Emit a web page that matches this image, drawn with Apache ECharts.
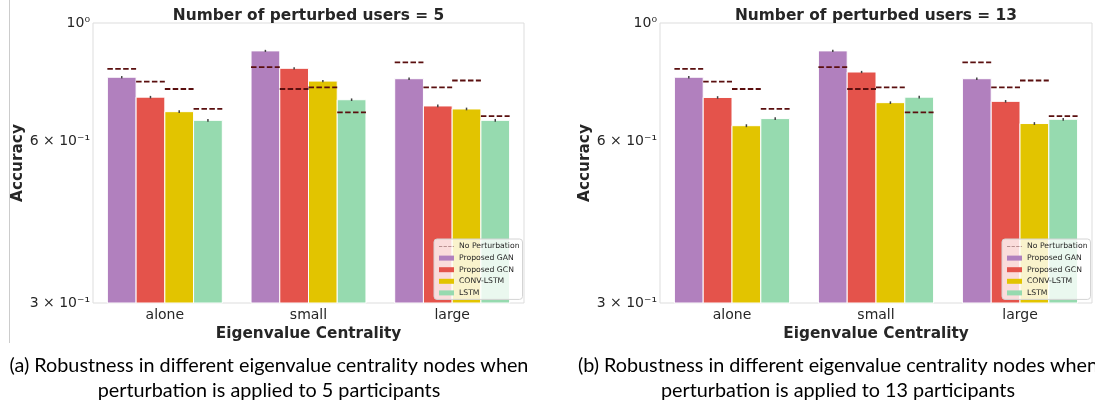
<!DOCTYPE html>
<html>
<head>
<meta charset="utf-8">
<script src="https://cdn.jsdelivr.net/npm/echarts@6/dist/echarts.min.js"></script>
<style>
  html, body { margin: 0; padding: 0; background: #fff; }
  #chart { width: 1095px; height: 406px; }
</style>
</head>
<body>
<div id="chart"></div>
<script>
// ---------- data ----------
const categories = ['alone', 'small', 'large'];
const modelNames = ['Proposed GAN', 'Proposed GCN', 'CONV-LSTM', 'LSTM'];
const noPertName = 'No Perturbation';

// Number of perturbed users = 5
const gan5  = [0.792, 0.887, 0.787];
const gcn5  = [0.727, 0.823, 0.700];
const conv5 = [0.683, 0.779, 0.691];
const lstm5 = [0.658, 0.719, 0.658];
const err5  = [0.004, 0.004, 0.004];

// Number of perturbed users = 13
const gan13  = [0.792, 0.887, 0.787];
const gcn13  = [0.726, 0.810, 0.714];
const conv13 = [0.643, 0.710, 0.649];
const lstm13 = [0.663, 0.727, 0.661];
const err13  = [0.004, 0.004, 0.004];

// No-perturbation baseline per model
const noPertGan  = [0.821, 0.827, 0.844];
const noPertGcn  = [0.777, 0.753, 0.758];
const noPertConv = [0.753, 0.758, 0.781];
const noPertLstm = [0.691, 0.681, 0.670];

const yMin = 0.3, yMax = 1.0;
const yTicks = [0.3, 0.6, 1.0];
const yTickLabels = ['3 × 10⁻¹', '6 × 10⁻¹', '10⁰'];

const titles = ['Number of perturbed users = 5', 'Number of perturbed users = 13'];
const captions = [
  '(a) Robustness in different eigenvalue centrality nodes when\nperturbation is applied to 5 participants',
  '(b) Robustness in different eigenvalue centrality nodes when\nperturbation is applied to 13 participants'
];

// ---------- style ----------
const colors = ['#b180be', '#e4534b', '#e2c400', '#96daaf'];
const dashColor = '#5a0f0f';
const textColor = '#262626';
const FONT = 'DejaVu Sans';

const grids = [
  { left: 93, top: 23, width: 431, height: 280 },
  { left: 660, top: 23, width: 432, height: 280 }
];

const chartValues = [
  [gan5, gcn5, conv5, lstm5],
  [gan13, gcn13, conv13, lstm13]
];
const chartErr = [err5, err13];
const noPert = [noPertGan, noPertGcn, noPertConv, noPertLstm];

function bandInfo(api, c, v) {
  const p = api.coord([c, v]);
  const p0 = api.coord([0, v]);
  const p1 = api.coord([1, v]);
  return { p: p, band: Math.abs(p1[0] - p0[0]) };
}

function renderBar(params, api) {
  const c = api.value(0), v = api.value(1), m = api.value(2);
  const b = bandInfo(api, c, v);
  const bw = b.band * 0.2;
  const x0 = b.p[0] + (m - 2) * bw;
  const base = api.coord([c, yMin]);
  return {
    type: 'rect',
    shape: { x: x0, y: b.p[1], width: bw, height: base[1] - b.p[1] },
    style: { fill: api.visual('color'), stroke: '#ffffff', lineWidth: 1 }
  };
}

function renderDash(params, api) {
  const c = api.value(0), v = api.value(1), m = api.value(2);
  const b = bandInfo(api, c, v);
  const bw = b.band * 0.2;
  const x0 = b.p[0] + (m - 2) * bw;
  return {
    type: 'line',
    shape: { x1: x0, y1: b.p[1], x2: x0 + bw, y2: b.p[1] },
    style: { stroke: dashColor, lineWidth: 1.8, lineDash: [5.5, 2.4] }
  };
}

function renderErr(params, api) {
  const c = api.value(0), v = api.value(1), m = api.value(2), e = api.value(3);
  const b = bandInfo(api, c, v);
  const bw = b.band * 0.2;
  const x = b.p[0] + (m - 1.5) * bw;
  const lo = api.coord([c, v - e]);
  const hi = api.coord([c, v + e]);
  return {
    type: 'line',
    shape: { x1: x, y1: lo[1], x2: x, y2: hi[1] },
    style: { stroke: '#424242', lineWidth: 1.5 }
  };
}

function tickLabel(v) {
  let best = 0, bd = Infinity;
  yTicks.forEach((t, i) => { const d = Math.abs(Math.log(v) - Math.log(t)); if (d < bd) { bd = d; best = i; } });
  return bd < 0.01 ? yTickLabels[best] : '';
}

const xAxes = [], yAxes = [], series = [], legends = [], graphics = [];

grids.forEach((g, gi) => {
  xAxes.push({
    type: 'category', gridIndex: gi, data: categories,
    axisLine: { show: false }, axisTick: { show: false }, splitLine: { show: false },
    axisLabel: { fontSize: 14, color: textColor, fontFamily: FONT, margin: 5 },
    name: 'Eigenvalue Centrality', nameLocation: 'middle', nameGap: 21,
    nameTextStyle: { fontSize: 15.3, fontWeight: 'bold', color: textColor, fontFamily: FONT }
  });
  yAxes.push({
    type: 'log', logBase: 10, gridIndex: gi, min: yMin, max: yMax,
    axisLine: { show: false }, axisTick: { show: false }, splitLine: { show: false },
    minorTick: { show: false }, minorSplitLine: { show: false },
    axisLabel: {
      customValues: yTicks, formatter: tickLabel, showMinLabel: true, showMaxLabel: true,
      fontSize: 14, color: textColor, fontFamily: FONT, margin: 3
    },
    name: 'Accuracy', nameLocation: 'middle', nameGap: 64,
    nameTextStyle: { fontSize: 15.3, fontWeight: 'bold', color: textColor, fontFamily: FONT }
  });

  const vals = chartValues[gi];
  modelNames.forEach((name, m) => {
    series.push({
      type: 'custom', name: name, xAxisIndex: gi, yAxisIndex: gi,
      renderItem: renderBar,
      data: vals[m].map((v, ci) => [ci, v, m]),
      itemStyle: { color: colors[m] }, silent: true, z: 2
    });
  });

  const errData = [];
  modelNames.forEach((name, m) => {
    categories.forEach((c, ci) => errData.push([ci, vals[m][ci], m, chartErr[gi][ci]]));
  });
  series.push({
    type: 'custom', name: 'err' + gi, xAxisIndex: gi, yAxisIndex: gi,
    renderItem: renderErr, data: errData, z: 3, silent: true
  });

  const dashData = [];
  modelNames.forEach((name, m) => {
    categories.forEach((c, ci) => dashData.push([ci, noPert[m][ci], m]));
  });
  series.push({
    type: 'custom', name: noPertName, xAxisIndex: gi, yAxisIndex: gi,
    renderItem: renderDash, data: dashData, z: 3, silent: true,
    itemStyle: { color: '#b89090' }
  });

  legends.push({
    orient: 'vertical',
    left: g.left + g.width - 90, top: 239,
    itemWidth: 15, itemHeight: 5, itemGap: 2.6,
    padding: [3, 3, 2, 5],
    backgroundColor: 'rgba(255,255,255,0.8)',
    borderColor: '#d4d4d4', borderWidth: 1, borderRadius: 3,
    textStyle: { fontSize: 7.7, lineHeight: 9, color: textColor, fontFamily: FONT },
    selectedMode: false,
    data: [
      { name: noPertName, icon: 'path://M0,0h0.05v0.05h-0.05zM0,2.1h3.3v0.8h-3.3zM4.6,2.1h3.3v0.8h-3.3zM9.2,2.1h3.3v0.8h-3.3zM13.8,2.1h1.2v0.8h-1.2zM15,4.95h0.05v0.05h-0.05z', itemStyle: { color: '#b89090' } }
    ].concat(modelNames.map(n => ({ name: n, icon: 'rect' })))
  });

  graphics.push({
    type: 'text', x: g.left + g.width / 2, y: 16,
    style: { text: titles[gi], align: 'center', verticalAlign: 'middle',
             fontSize: 15.4, fontWeight: 'bold', fontFamily: FONT, fill: textColor }
  });
});

graphics.push({
  type: 'text', x: 269, y: 353,
  style: { text: captions[0], align: 'center', verticalAlign: 'top', lineHeight: 25,
           fontSize: 19.8, fontFamily: 'Lato', fill: '#000' }
});
graphics.push({
  type: 'text', x: 838, y: 353,
  style: { text: captions[1], align: 'center', verticalAlign: 'top', lineHeight: 25,
           fontSize: 19.8, fontFamily: 'Lato', fill: '#000' }
});
graphics.push({
  type: 'line', shape: { x1: 9.5, y1: 0, x2: 9.5, y2: 343 },
  style: { stroke: '#cccccc', lineWidth: 1 }
});

const chart = echarts.init(document.getElementById('chart'), null, { renderer: 'canvas' });
chart.setOption({
  animation: false,
  backgroundColor: '#ffffff',
  grid: grids.map(g => Object.assign({ show: true, borderColor: '#dddddd', borderWidth: 1, backgroundColor: 'transparent' }, g)),
  xAxis: xAxes,
  yAxis: yAxes,
  legend: legends,
  series: series,
  graphic: graphics
});
</script>
</body>
</html>
